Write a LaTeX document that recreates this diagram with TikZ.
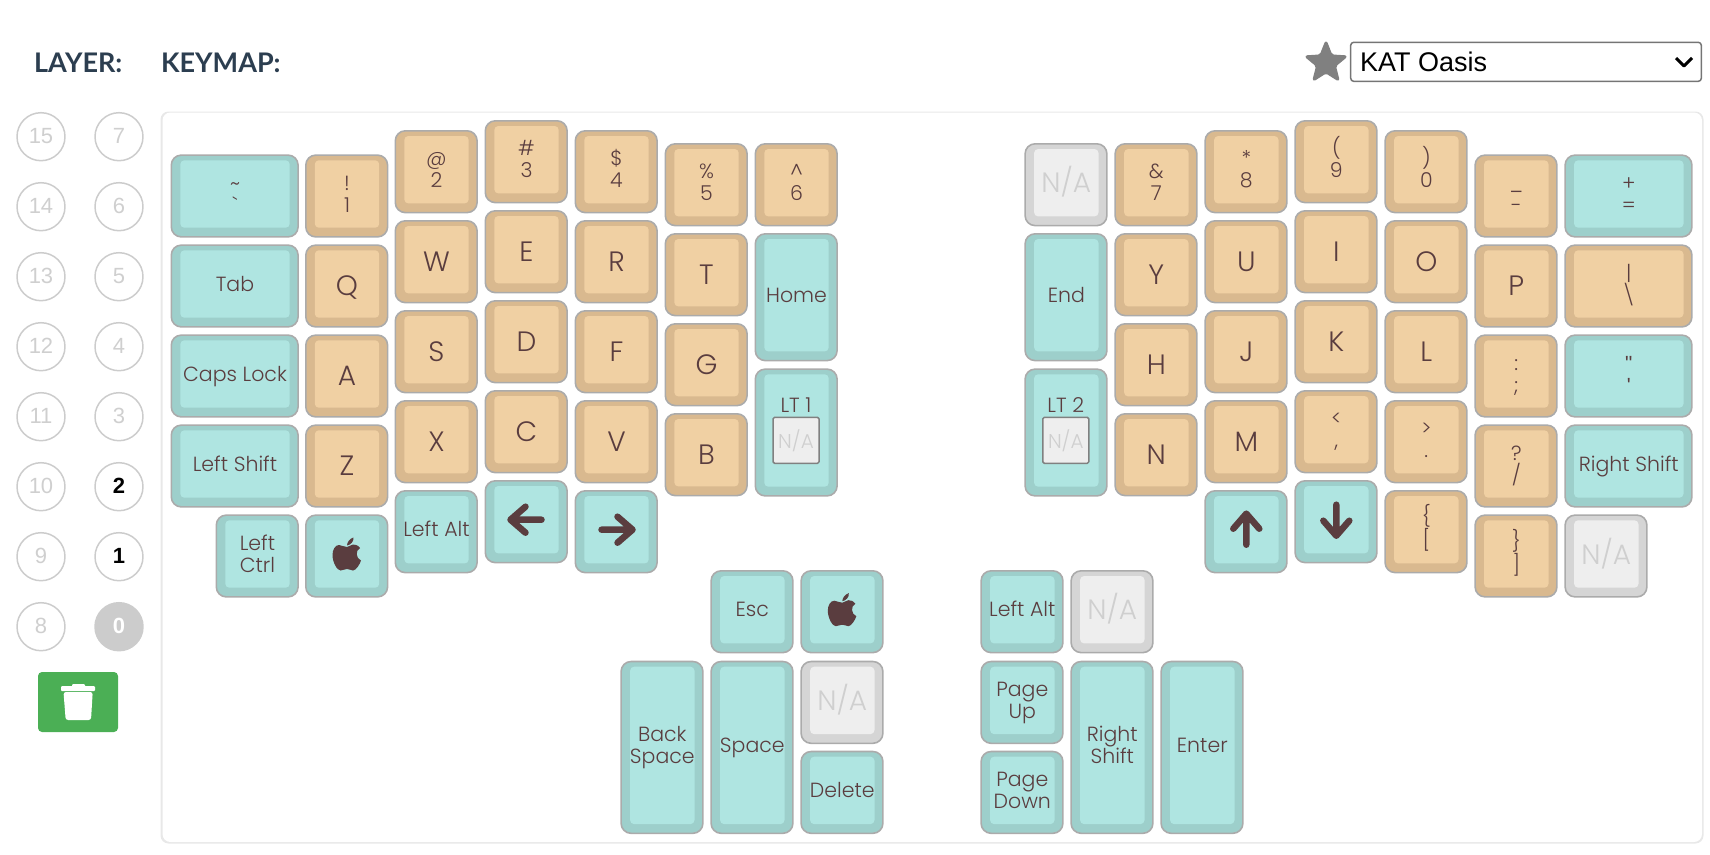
\documentclass[tikz,border=0pt]{standalone}
\usepackage{fontspec}
\usetikzlibrary{shapes.geometric}
\setmainfont{Poppins Light}
\newfontfamily\headfont{Lato}
\newfontfamily\uifont{Liberation Sans}
\definecolor{keyrim}{HTML}{ABABAB}
\definecolor{tanside}{HTML}{D9B98F}
\definecolor{tantop}{HTML}{F0D0A3}
\definecolor{tealside}{HTML}{9DCFCB}
\definecolor{tealtop}{HTML}{AFE5E1}
\definecolor{naside}{HTML}{D5D5D5}
\definecolor{natop}{HTML}{EEEEEE}
\definecolor{legend}{HTML}{5A3D3F}
\definecolor{nagrey}{HTML}{CFCFCF}
\definecolor{ringgrey}{HTML}{CCCCCC}
\definecolor{headblue}{HTML}{2C3E50}
\definecolor{trashgreen}{HTML}{4BAF55}
\tikzset{
  keybody/.style={draw=keyrim,line width=1.6pt,rounded corners=10pt,inner sep=0pt,anchor=north west},
  keytop/.style={rounded corners=4pt,inner sep=0pt,anchor=north west},
  keytext/.style={text=legend,align=center,inner sep=0pt,text height=14pt,text depth=0pt,font=\fontsize{20.5}{22}\selectfont},
  keytwo/.style={keytext,text height=36pt},
  bigtext/.style={keytext,text height=23pt,font=\fontsize{28}{30}\selectfont},
  natext/.style={text=nagrey,inner sep=0pt,text height=20pt,text depth=0pt,font=\fontsize{28}{30}\selectfont},
  layerring/.style={circle,draw=ringgrey,line width=1.5pt,minimum size=48pt,inner sep=0pt,text=nagrey,font=\uifont\fontsize{22}{22}\selectfont},
  activering/.style={layerring,text=black,font=\uifont\bfseries\fontsize{22}{22}\selectfont},
  headtext/.style={text=headblue,inner sep=0pt,anchor=base west,font=\headfont\bfseries\fontsize{27}{27}\selectfont},
}
% name, x, y, width u, height u, colours, label style, label
\newcommand{\keycap}[8]{%
  \node[keybody,fill=#6side,minimum width=#4*90pt-8.2pt,minimum height=#5*90pt-8.2pt] (#1) at (#2,#3) {};
  \node[keytop,fill=#6top,minimum width=#4*90pt-25.6pt,minimum height=#5*90pt-22.6pt] (#1-top) at (#2+9.6,#3+5.8) {};
  \node[#7] (#1-txt) at (#1-top.center) {#8};
}
\begin{document}
\begin{tikzpicture}[x=1pt,y=-1pt,line join=round,
  applelogo/.pic={
    \fill[legend] (0,-7) .. controls (-3,-7) and (-6,-9) .. (-8,-9)
      .. controls (-12,-9) and (-14.5,-4) .. (-14.5,1)
      .. controls (-14.5,8) and (-10,16.5) .. (-6.5,16.5)
      .. controls (-4,16.5) and (-3,15) .. (0,15)
      .. controls (3,15) and (4,16.5) .. (6,16.5)
      .. controls (9,16.5) and (13,10) .. (14,6.5)
      .. controls (9,4.5) and (8,-3.5) .. (13,-6)
      .. controls (11,-9) and (8,-9.5) .. (6,-9.5)
      .. controls (4,-9.5) and (2,-7) .. (0,-7) -- cycle
      (0,-8.5) .. controls (0,-12) and (3,-15.5) .. (6.5,-16.5)
      .. controls (7,-12.5) and (3.5,-9) .. (0,-8.5) -- cycle;}]
\useasboundingbox (0,0) rectangle (1710,854);
%% panel
\fill[black!9,rounded corners=8pt] (160.5,111.5) rectangle (1703.5,843.5);
\fill[white,rounded corners=8pt] (162.5,112.5) rectangle (1702,842);
%% header
\node[headtext] (layerhead) at (34,72) {LAYER:};
\node[headtext] (keymaphead) at (161,72) {KEYMAP:};
\node[star,star points=5,star point ratio=2.3,fill=black!50,draw=black!50,line width=2pt,rounded corners=2pt,minimum size=43pt,inner sep=0pt] (favstar) at (1326,63) {};
\draw[draw=black!54,line width=1.5pt,rounded corners=3pt,fill=white] (1350.7,42.3) rectangle (1701.3,81.3);
\node[inner sep=0pt,anchor=base west,font=\uifont\fontsize{27}{27}\selectfont] (keymapname) at (1360,71) {KAT Oasis};
\draw[line width=3pt] (1676,58) -- (1684,66) -- (1692,58);
%% layer buttons
\foreach \lnum/\ly in {15/136.7,14/206.7,13/276.7,12/346.7,11/416.7,10/486.7,9/556.7,8/626.7}
  \node[layerring] (layer\lnum) at (41,\ly) {\raisebox{2pt}{\lnum}};
\foreach \lnum/\ly in {7/136.7,6/206.7,5/276.7,4/346.7,3/416.7}
  \node[layerring] (layer\lnum) at (119,\ly) {\raisebox{2pt}{\lnum}};
\foreach \lnum/\ly in {2/486.7,1/556.7}
  \node[activering] (layer\lnum) at (119,\ly) {\raisebox{2pt}{\lnum}};
\node[activering,fill=ringgrey,text=white] (layer0) at (119,626.7) {\raisebox{2pt}{0}};
%% trash button
\fill[trashgreen,rounded corners=4pt] (38,672) rectangle (118,732);
\fill[white,rounded corners=1pt] (72,684) rectangle (85,688) (61,686) rectangle (95,691);
\fill[white,rounded corners=2.5pt] (63.5,692) -- (92.7,692) -- (91,720) -- (65.7,720) -- cycle;
%% letters
\foreach \kname/\kx/\ky/\ktext in {Q/305/244.3/Q,A/305/334.3/A,Z/305/424.3/Z,
  W/394.5/220/W,S/394.5/310/S,X/394.5/400/X,E/484.5/210/E,D/484.5/300/D,C/484.5/390/C,
  R/574.5/220/R,F/574.5/310/F,V/574.5/400/V,T/664.5/233/T,G/664.5/323/G,B/664.5/413/B,
  Y/1114.3/233/Y,H/1114.3/323/H,N/1114.3/413/N,U/1204.3/220/U,J/1204.3/310/J,M/1204.3/400/M,
  I/1294.3/210/I,K/1294.3/300/K,O/1384.3/220/O,L/1384.3/310/L,P/1474.3/244.3/P}
  \keycap{key\kname}{\kx}{\ky}{1}{1}{tan}{bigtext}{\ktext};
%% number row and symbols
\foreach \kname/\kx/\ky/\ktext in {one/305/154.3/{!\\1},two/394.5/130/{@\\2},three/484.5/120/{\#\\3},
  four/574.5/130/{\$\\4},five/664.5/143/{\%\\5},six/754.5/143/{\textasciicircum\\6},
  seven/1114.3/143/{\&\\7},eight/1204.3/130/{*\\8},nine/1294.3/120/{(\\9},zero/1384.3/130/{)\\0},
  minus/1474.3/154.3/{\_\\-},semi/1474.3/334.3/{:\\;},slash/1474.3/424.3/{?\\/},
  comma/1294.3/390/{<\\,},dot/1384.3/400/{>\\.},lbrack/1384.3/490/{\{\\{[}},rbrack/1474.3/514.3/{\}\\]}}
  \keycap{key\kname}{\kx}{\ky}{1}{1}{tan}{keytwo}{\ktext};
\keycap{keybslash}{1564.3}{244.3}{1.5}{1}{tan}{keytwo}{|\\\textbackslash}
%% modifiers, one line
\foreach \kname/\kx/\ky/\kw/\kh/\ktext in {tab/170.5/244.3/1.5/1/Tab,caps/170.5/334.3/1.5/1/Caps Lock,
  lshift/170.5/424.3/1.5/1/Left Shift,rshift/1564.3/424.3/1.5/1/Right Shift,
  lalt/394.5/490/1/1/Left Alt,esc/710.3/570/1/1/Esc,ralt/980.3/570/1/1/Left Alt,
  del/800.3/750.7/1/1/Delete,home/754.5/233/1/1.5/Home,endk/1024.3/233/1/1.5/End,
  space/710.3/660.7/1/2/Space,enter/1160.3/660.7/1/2/Enter}
  \keycap{key\kname}{\kx}{\ky}{\kw}{\kh}{teal}{keytext}{\ktext};
%% modifiers, two lines
\foreach \kname/\kx/\ky/\kw/\kh/\ktext in {tilde/170.5/154.3/1.5/1/{\textasciitilde\\\textasciigrave},
  plus/1564.3/154.3/1.5/1/{+\\=},quote/1564.3/334.3/1.5/1/{{\uifont"}\\{\uifont\textquotesingle}},
  lctrl/215.5/514.3/1/1/{Left\\Ctrl},pgup/980.3/660.7/1/1/{Page\\Up},pgdn/980.3/750.7/1/1/{Page\\Down},
  bspace/620.3/660.7/1/2/{Back\\Space},rthumb/1070.3/660.7/1/2/{Right\\Shift}}
  \keycap{key\kname}{\kx}{\ky}{\kw}{\kh}{teal}{keytwo}{\ktext};
%% layer keys
\foreach \kname/\kx/\ktext in {ltone/754.5/LT 1,lttwo/1024.3/LT 2}{
  \keycap{key\kname}{\kx}{368.3}{1}{1.5}{teal}{keytext}{}
  \node[keytext,anchor=base] (\kname-lab) at (\kx+41.5,412) {\ktext};
  \node[draw=black!50,fill=natop,line width=1.5pt,rounded corners=1.5pt,minimum size=46pt,inner sep=0pt,text=nagrey,font=\fontsize{20}{20}\selectfont] (\kname-na) at (\kx+41.5,440.3) {N/A};
}
%% unassigned
\foreach \kname/\kx/\ky in {naone/1024.3/143,natwo/1564.3/514.3,nathree/800.3/660.7,nafour/1070.3/570}
  \keycap{key\kname}{\kx}{\ky}{1}{1}{na}{natext}{N/A};
%% apple and arrow keys
\foreach \kname/\kx/\ky in {guione/305/514.3,guitwo/800.3/570}{
  \keycap{key\kname}{\kx}{\ky}{1}{1}{teal}{keytext}{}
  \pic at (key\kname-top.center) {applelogo};
}
\foreach \kname/\kx/\ky/\krot in {left/484.5/480/0,right/574.5/490/180,up/1204.3/490/270,down/1294.3/480/90}{
  \keycap{key\kname}{\kx}{\ky}{1}{1}{teal}{keytext}{}
  \draw[legend,line width=6.5pt,line cap=round,rotate around={\krot:(key\kname-top.center)}] (key\kname-top.center) ++(15,0) -- ++(-31,0) ++(15,-13) -- ++(-15,13) -- ++(15,13);
}
\end{tikzpicture}
\end{document}
